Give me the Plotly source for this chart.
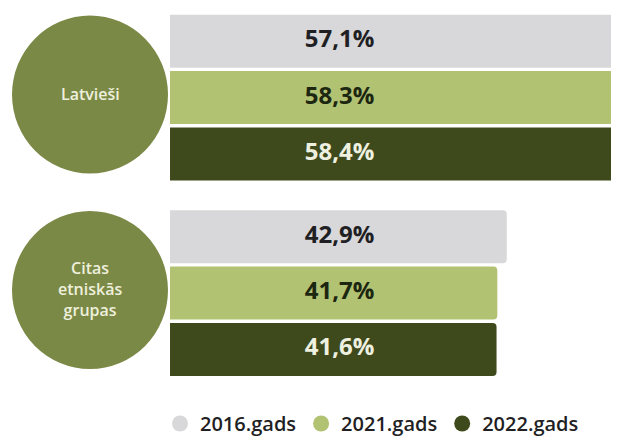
import plotly.graph_objects as go

# ---- data ----
categories = ["Latvieši", "Citas etniskās grupas"]
circle_labels = ["Latvieši", "Citas<br>etniskās<br>grupas"]
years = ["2016.gads", "2021.gads", "2022.gads"]
v2016 = [57.1, 42.9]
v2021 = [58.3, 41.7]
v2022 = [58.4, 41.6]
series = [v2016, v2021, v2022]

# ---- style ----
bar_colors = ["#d8d8da", "#b2c273", "#3e4a1c"]
label_colors = ["#1f1f24", "#1c2610", "#eef0e0"]
circle_color = "#7b8947"
FONT = "Open Sans"
LABEL_X = 21.6            # horizontal position of value labels (axis units)
X_RANGE = [-20.64, 57.2]
Y_RANGE = [1.767, -0.458]  # reversed category axis, full-height plot area

# the page body has an 8px margin, so the figure is 8px smaller than the window
W, H = 611, 435
BARGAP = 0.135

fig = go.Figure()

for name, vals, col in zip(years, series, bar_colors):
    fig.add_trace(go.Bar(
        y=categories, x=vals, orientation="h", name=name,
        marker=dict(color=col, line=dict(width=0), cornerradius=4),
        showlegend=False, hoverinfo="skip",
    ))

for name, vals, tc in zip(years, series, label_colors):
    fig.add_trace(go.Scatter(
        y=categories, x=[LABEL_X] * len(vals), orientation="h",
        mode="text",
        text=[f"{v:.1f}".replace(".", ",") + "%" for v in vals],
        textposition="middle center",
        textfont=dict(family=FONT, size=24, color=tc, weight=700),
        showlegend=False, hoverinfo="skip", cliponaxis=False,
    ))

# legend-only entries (circles) on a hidden axis pair
for name, col in zip(years, bar_colors):
    fig.add_trace(go.Scatter(
        x=[None], y=[None], mode="markers", name=name,
        marker=dict(symbol="circle", size=17, color=col),
        xaxis="x2", yaxis="y2", showlegend=True, hoverinfo="skip",
    ))

shapes = []
annotations = []
cx_paper = 82 / W
for cat, lab in zip(categories, circle_labels):
    shapes.append(dict(
        type="circle", xref="paper", yref="y",
        xsizemode="pixel", ysizemode="pixel",
        xanchor=cx_paper, yanchor=cat,
        x0=-78, x1=78, y0=-76, y1=82,
        fillcolor=circle_color, line=dict(width=0), layer="above",
    ))
    annotations.append(dict(
        xref="paper", yref="y", x=cx_paper, y=cat, text=lab,
        showarrow=False, xanchor="center", yanchor="middle", yshift=4,
        font=dict(family=FONT, size=16, color="#eef0dc", weight=600),
    ))

fig.update_layout(
    width=W, height=H,
    margin=dict(l=0, r=0, t=0, b=0, pad=0, autoexpand=False),
    paper_bgcolor="white", plot_bgcolor="rgba(0,0,0,0)",
    barmode="group", bargap=BARGAP, bargroupgap=0.06,
    scattermode="group", scattergap=BARGAP,
    xaxis=dict(range=X_RANGE, visible=False, fixedrange=True),
    yaxis=dict(range=Y_RANGE, visible=False, fixedrange=True, type="category"),
    xaxis2=dict(visible=False, domain=[0, 1], anchor="y2"),
    yaxis2=dict(visible=False, domain=[0, 1], anchor="x2"),
    showlegend=True,
    legend=dict(
        orientation="h", x=152 / W, xanchor="left",
        y=0, yanchor="bottom",
        font=dict(family=FONT, size=20, color="#1f1f24", weight=600),
        bgcolor="rgba(0,0,0,0)", borderwidth=0, itemclick=False, itemdoubleclick=False,
    ),
    shapes=shapes, annotations=annotations,
    hovermode=False,
)

fig.write_html("out.html")
